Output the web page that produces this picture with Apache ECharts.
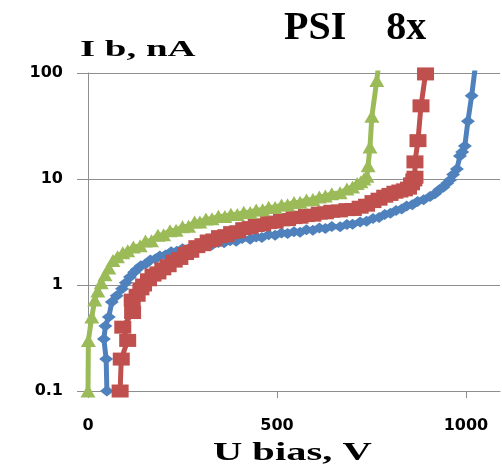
<!DOCTYPE html>
<html>
<head>
<meta charset="utf-8">
<script src="https://cdn.jsdelivr.net/npm/echarts@6/dist/echarts.min.js"></script>
<style>
html,body{margin:0;padding:0;background:#fff;}
#chart{width:502px;height:469px;}
</style>
</head>
<body>
<div id="chart"></div>
<script>
// Tick labels
var xTicks = [0, 500, 1000];
var yTicks = [0.1, 1, 10, 100];

// Series: [U bias (V), I b (nA)]
var blueData = [
  [50,0.1],[48,0.2],[42,0.31],[46,0.41],[55,0.5],[63,0.69],[76,0.79],[90,0.92],[100,1.05],[111,1.19],
  [122,1.32],[129,1.4],[140,1.52],[152,1.58],[165,1.72],[178,1.76],[190,1.88],[205,1.92],[220,2.06],[235,2.08],
  [250,2.2],[265,2.18],[280,2.3],[296,2.26],[312,2.42],[328,2.38],[345,2.52],[360,2.5],[376,2.62],[392,2.58],
  [408,2.74],[429,2.7],[445,2.84],[460,2.8],[478,2.98],[495,2.94],[512,3.1],[528,3.06],[545,3.18],[561,3.14],
  [578,3.32],[595,3.28],[612,3.44],[628,3.42],[645,3.56],[667,3.54],[685,3.72],[700,3.74],[720,3.92],[737,4.0],
  [754,4.24],[770,4.34],[785,4.62],[800,4.74],[815,5.04],[830,5.2],[843,5.55],[858,5.72],[872,6.15],[888,6.36],
  [905,6.85],[918,7.25],[930,7.95],[940,8.35],[950,9.1],[958,9.8],[966,11],[976,12.4],[984,16.5],[990,18],
  [997,20.5],[1005,35],[1015,61],[1026,125]
];
var redData = [
  [85,0.1],[88,0.2],[105,0.3],[92,0.4],[118,0.55],[117,0.72],[130,0.8],[140,0.92],[147,1.0],[160,1.12],
  [172,1.24],[185,1.3],[198,1.42],[212,1.52],[228,1.68],[243,1.78],[258,1.98],[272,2.08],[288,2.3],[304,2.4],
  [318,2.6],[333,2.66],[348,2.86],[365,2.92],[380,3.12],[396,3.18],[412,3.4],[429,3.48],[445,3.64],[462,3.7],
  [478,3.88],[495,3.92],[512,4.12],[528,4.14],[545,4.32],[561,4.36],[578,4.52],[595,4.56],[612,4.76],[628,4.8],
  [645,4.96],[665,5.0],[685,5.14],[702,5.16],[720,5.42],[737,5.66],[754,6.12],[770,6.45],[785,6.88],[799,7.15],
  [812,7.5],[825,7.7],[837,7.9],[848,8.2],[856,9.0],[862,9.8],[865,10.4],[865,14.5],[873,23],[881,49],
  [893,98]
];
var greenData = [
  [0,0.1],[1,0.3],[10,0.5],[18,0.72],[26,0.88],[35,1.05],[45,1.25],[55,1.45],[66,1.7],[78,1.85],
  [92,2.02],[105,2.1],[120,2.28],[138,2.34],[152,2.6],[168,2.62],[185,2.95],[200,2.98],[217,3.25],[233,3.28],
  [250,3.55],[266,3.58],[282,3.92],[296,3.94],[312,4.2],[328,4.22],[345,4.45],[362,4.42],[378,4.65],[395,4.62],
  [412,4.85],[429,4.84],[445,5.1],[462,5.12],[478,5.4],[495,5.38],[512,5.7],[528,5.72],[545,6.0],[561,6.04],
  [578,6.35],[595,6.42],[612,6.78],[628,6.9],[645,7.25],[667,7.4],[685,8.05],[700,8.4],[712,9.05],[722,9.4],
  [730,10.0],[738,10.6],[741,13.3],[746,20],[751,39],[764,85],[770,130]
];

var chart = echarts.init(document.getElementById('chart'), null, {renderer:'canvas'});
var labelFont = {fontFamily:'DejaVu Sans', fontWeight:'bold', fontSize:16, color:'#000'};
var gridColor = '#8e8e8e';

chart.setOption({
  animation:false,
  backgroundColor:'#fff',
  title:{
    text:'PSI    8x',
    left:279, top:4,
    textStyle:{fontFamily:'Liberation Serif', fontWeight:'bold', fontSize:40, color:'#000'}
  },
  grid:{left:88, top:73, right:2, bottom:78, containLabel:false},
  xAxis:{
    type:'value', min:0, max:1090, interval:500,
    axisLine:{show:true, lineStyle:{color:gridColor, width:1}},
    axisTick:{show:true, length:7, customValues:xTicks, lineStyle:{color:gridColor}},
    axisLabel:Object.assign({margin:27, customValues:xTicks, formatter:function(v){return String(v);}}, labelFont),
    splitLine:{show:false}
  },
  yAxis:{
    type:'log', logBase:10, min:0.1, max:100,
    axisLine:{show:true, lineStyle:{color:gridColor, width:1}},
    axisTick:{show:true, length:11, lineStyle:{color:gridColor}},
    axisLabel:Object.assign({margin:25, customValues:yTicks, formatter:function(v){return String(v);}}, labelFont),
    splitLine:{show:true, lineStyle:{color:gridColor, width:1}},
    minorTick:{show:false}, minorSplitLine:{show:false}
  },
  graphic:[
    {type:'text', x:80, y:50, scaleX:1.62, originX:0, originY:0,
     style:{text:'I b, nA', font:'bold 24px "Liberation Serif"', fill:'#000', textVerticalAlign:'middle', verticalAlign:'middle', textAlign:'left', align:'left'}},
    {type:'text', x:213, y:454, scaleX:1.62, originX:0, originY:0,
     style:{text:'U bias, V', font:'bold 25px "Liberation Serif"', fill:'#000', textVerticalAlign:'middle', verticalAlign:'middle', textAlign:'left', align:'left'}}
  ],
  series:[
    {type:'line', name:'blue', data:blueData, clip:true, symbol:'diamond', symbolSize:[14,11], showAllSymbol:true,
     lineStyle:{color:'#4F81BD', width:5}, itemStyle:{color:'#4F81BD'}},
    {type:'line', name:'red', data:redData, clip:true, symbol:'rect', symbolSize:[17,13], showAllSymbol:true,
     lineStyle:{color:'#C0504D', width:5}, itemStyle:{color:'#C0504D'}},
    {type:'line', name:'green', data:greenData, clip:true, symbol:'triangle', symbolSize:[15,13], showAllSymbol:true,
     lineStyle:{color:'#9BBB59', width:5}, itemStyle:{color:'#9BBB59'}}
  ]
});
</script>
</body>
</html>
